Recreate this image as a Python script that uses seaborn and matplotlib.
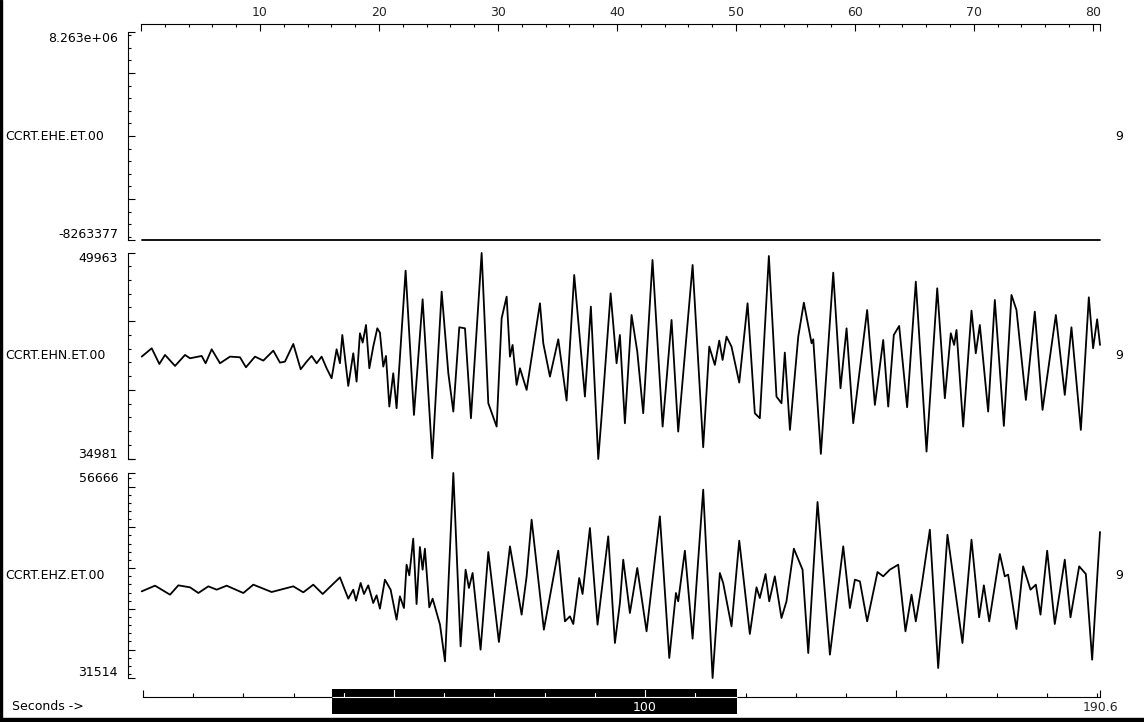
import numpy as np
import matplotlib
matplotlib.use('Agg')
import matplotlib.pyplot as plt
from matplotlib.ticker import FixedLocator, MultipleLocator, NullLocator
from matplotlib.patches import Rectangle
import seaborn as sns

# --- channels ---
channels = ['CCRT.EHE.ET.00', 'CCRT.EHN.ET.00', 'CCRT.EHZ.ET.00']
ch_top_labels = ['8.263e+06', '49963', '56666']
ch_bottom_labels = ['-8263377', '34981', '31514']
ch_max = [8263377, 49963, 56666]
ch_min = [-8263377, 34981, 31514]
ch_right = ['9', '9', '9']
major_step = [5e6, 5000, 5000]
minor_step = [1e6, 1000, 1000]

# --- time axes (seconds) ---
window_len = 80.6
window_start = 37.7
total_len = 190.6
top_ticks = [0, 10, 20, 30, 40, 50, 60, 70, 80, 80.6]
top_tick_labels = ['', '10', '20', '30', '40', '50', '60', '70', '80', '']
overview_ticks = [0, 50, 100, 150, 190.6]
overview_tick_labels = ['', '', '100', '', '190.6']

# --- traces (time in s, amplitude in counts) ---
e_times = [0.06, 80.6]
e_values = [-8263377, -8263377]

n_times = [0.06, 0.90, 1.54, 2.02, 2.86, 3.70, 4.12, 5.10, 5.43, 5.94, 6.64, 7.48,
           8.32, 8.82, 9.58, 10.28, 11.12, 11.68, 12.10, 12.80, 13.42, 13.92, 14.34,
           14.76, 15.18, 15.60, 16.02, 16.44, 16.72, 16.92, 17.42, 17.84, 18.12, 18.40,
           18.63, 18.91, 19.19, 19.52, 19.86, 20.08, 20.36, 20.59, 20.87, 21.20, 21.48,
           22.24, 22.94, 23.67, 24.48, 25.27, 25.83, 26.25, 26.75, 27.23, 27.73, 28.63,
           29.19, 29.89, 30.31, 30.73, 31.01, 31.23, 31.57, 31.85, 32.41, 33.53, 33.81,
           34.37, 35.07, 35.77, 36.41, 37.31, 37.81, 38.43, 38.71, 39.47, 39.97,
           40.25, 40.67, 41.23, 41.71, 42.21, 42.99, 43.84, 44.59, 45.15, 46.36, 47.25,
           47.76, 48.23, 48.60, 48.88, 49.21, 49.63, 50.28, 50.98, 51.59, 52.01, 52.77,
           53.41, 53.83, 54.11, 54.54, 55.24, 55.71, 56.36, 56.50, 57.14, 58.18, 58.79,
           59.30, 59.86, 61.03, 61.68, 62.38, 62.80, 63.27, 63.72, 64.39, 65.12, 66.02,
           66.92, 67.56, 68.06, 68.34, 68.54, 69.10, 69.80, 70.16, 70.50, 71.20, 71.76,
           72.52, 73.16, 73.58, 74.37, 75.12, 75.77, 76.89, 77.64, 78.20, 78.99, 79.66,
           80.02, 80.36, 80.60]
n_values = [42427, 43033, 41894, 42549, 41749, 42549, 42306, 42476, 41943, 42960, 41943, 42427,
            42379, 41652, 42427, 42137, 42864, 41991, 42064, 43348, 41507, 42064, 42476,
            41943, 42427, 41579, 40852, 42960, 41943, 44002, 40295, 42670, 40610, 44123,
            43445, 44729, 41579, 43154, 44487, 44172, 41700, 42476, 38793, 41216, 38672,
            48679, 38187, 46595, 35037, 47152, 41216, 38429, 44560, 44487, 37945, 49963,
            39035, 37339, 45214, 46789, 42427, 43275, 40368, 41579, 40004, 46304, 43397,
            40974, 43687, 39229, 48364, 39520, 46062, 34981, 38066, 47031, 41943,
            44002, 37581, 45456, 42791, 38308, 49454, 37339, 45093, 36976, 49091, 35837,
            43154, 41822, 43590, 42185, 43881, 43154, 40537, 46304, 38308, 37945, 49745,
            39520, 39035, 42718, 37097, 43881, 46353, 43397, 43687, 35352, 48533, 40126,
            44487, 37581, 45820, 38914, 43639, 38793, 44002, 44657, 38744, 47879, 35522,
            47395, 39399, 44123, 43275, 44366, 37339, 45771, 42670, 44729, 38429, 46546,
            37388, 46910, 45820, 39277, 45698, 38551, 45456, 39641, 44560, 37097, 46740,
            43033, 45141, 43275]

z_times = [0.06, 1.18, 2.44, 3.14, 4.12, 4.82, 5.66, 6.36, 7.20, 8.60, 9.44, 10.98,
           12.80, 13.64, 14.48, 15.27, 16.72, 17.42, 17.84, 18.07, 18.46, 18.74, 19.10,
           19.52, 19.80, 20.08, 20.50, 20.98, 21.48, 21.76, 22.10, 22.32, 22.55, 22.88,
           23.16, 23.44, 23.67, 23.86, 24.23, 24.51, 25.13, 25.55, 26.25, 26.86, 27.28,
           27.56, 27.87, 28.54, 29.19, 30.08, 31.01, 31.99, 32.41, 32.83, 33.86, 35.07,
           35.63, 36.05, 36.33, 36.83, 37.11, 37.73, 38.37, 39.27, 39.83,
           40.25, 40.53, 41.09, 41.71, 42.49, 43.61, 44.40, 44.96, 45.15, 45.71, 46.36,
           47.25, 48.04, 48.65, 48.93, 49.63, 50.28, 51.17, 51.73, 52.01, 52.49, 52.80,
           53.27, 53.83, 54.25, 54.87, 55.60, 56.08, 56.86, 57.90, 59.02, 59.58, 60.00,
           60.42, 61.03, 61.90, 62.38, 62.94, 63.64, 64.25, 64.76, 65.12, 65.60, 66.30,
           67.00, 67.78, 69.04, 69.80, 70.44, 70.84, 71.29, 72.18, 72.60, 72.88, 73.58,
           74.14, 74.76, 75.21, 75.60, 76.16, 76.80, 77.64, 78.12, 78.85, 79.41, 79.94,
           80.60]
z_values = [42147, 42842, 41738, 42883, 42638, 41942, 42760, 42351, 42842, 41942, 42965, 42065,
            42760, 42024, 42965, 41820, 43865, 41247, 42351, 41002, 43169, 41820, 42883,
            40715, 41656, 40020, 43578, 42351, 38670, 41533, 40102, 45419, 44110, 48609,
            40593, 47587, 44805, 47382, 40184, 41247, 38057, 33558, 56666, 35398, 44805,
            42556, 44396, 34989, 46973, 35930, 47668, 39284, 43987, 50940, 37443, 47137,
            38466, 39079, 38139, 43783, 41820, 49918, 38057, 48895, 35807,
            40715, 46032, 39488, 45010, 37239, 51349, 33967, 41942, 40920, 47137, 36339,
            54621, 31514, 44396, 43169, 37852, 48364, 36912, 42638, 41329, 44274, 40920,
            43987, 38875, 40920, 47382, 44805, 34580, 53108, 34376, 47668, 40102, 43578,
            43374, 38466, 44519, 43987, 44805, 45419, 37239, 41738, 38466, 42760, 49713,
            32740, 49100, 35807, 48486, 38957, 42883, 38466, 46728, 43987, 44192, 37525,
            45214, 42351, 42965, 39284, 47137, 38139, 46032, 38957, 45214, 44274, 33762,
            49427]

traces = [(e_times, e_values), (n_times, n_values), (z_times, z_values)]

W, H = 1144, 722
sns.set_theme(style='white')
plt.rcParams['font.family'] = ['DejaVu Sans']
plt.rcParams['font.size'] = 9
plt.rcParams['xtick.labelsize'] = 9
plt.rcParams['ytick.labelsize'] = 9
plt.rcParams['axes.axisbelow'] = False


def box(x0, y0, x1, y1):
    # pixel box (top-left origin) -> figure fraction rect
    return [x0 / W, 1 - y1 / H, (x1 - x0) / W, (y1 - y0) / H]


def fy(y):
    return 1 - y / H


fig = plt.figure(figsize=(W / 100, H / 100), dpi=100)
fig.patch.set_facecolor('white')

# window frame bits
fig.add_artist(Rectangle((0, 0), 2 / W, 1, transform=fig.transFigure, color='black'))
fig.add_artist(Rectangle((0, 0), 1, 4 / H, transform=fig.transFigure, color='black'))

panel_px = [(32, 240), (253, 459), (473, 678)]

for i, (y0, y1) in enumerate(panel_px):
    ax = fig.add_axes(box(141, y0, 1100, y1))
    t, v = traces[i]
    sns.lineplot(x=t, y=v, ax=ax, color='black', linewidth=1.3,
                 estimator=None, sort=False)
    for ln in ax.lines:
        ln.set_clip_on(False)
    ax.set_xlim(0, window_len)
    ax.set_ylim(ch_min[i], ch_max[i])
    ax.patch.set_alpha(0)
    ax.grid(False)
    for s in ['top', 'right', 'bottom']:
        ax.spines[s].set_visible(False)
    ax.spines['left'].set_position(('outward', 9.4))
    ax.spines['left'].set_color('black')
    ax.spines['left'].set_linewidth(0.8)
    ax.xaxis.set_major_locator(NullLocator())
    inner = np.arange(np.ceil(ch_min[i] / major_step[i]) * major_step[i], ch_max[i], major_step[i])
    ax.yaxis.set_major_locator(FixedLocator([ch_min[i]] + list(inner) + [ch_max[i]]))
    ax.yaxis.set_minor_locator(MultipleLocator(minor_step[i]))
    ax.tick_params(axis='y', which='major', direction='in', length=5.2, width=0.8,
                   color='black', left=True, labelleft=False)
    ax.tick_params(axis='y', which='minor', direction='in', length=2.4, width=0.8,
                   color='black', left=True)
    ax.set_xlabel('')
    ax.set_ylabel('')

    yc = (y0 + y1) / 2
    fig.text(5 / W, fy(yc), channels[i], ha='left', va='center', color='black')
    fig.text(1119 / W, fy(yc), ch_right[i], ha='center', va='center', color='black')
    fig.text(118 / W, fy(y0 + 6), ch_top_labels[i], ha='right', va='center', color='black')
    fig.text(118 / W, fy(y1 - 5), ch_bottom_labels[i], ha='right', va='center', color='black')

# top time axis
axt = fig.add_axes(box(141, 23.5, 1100, 30))
axt.set_xlim(0, window_len)
axt.set_ylim(0, 1)
axt.patch.set_alpha(0)
for s in ['left', 'right', 'bottom']:
    axt.spines[s].set_visible(False)
axt.spines['top'].set_color('black')
axt.spines['top'].set_linewidth(0.8)
axt.xaxis.tick_top()
axt.xaxis.set_major_locator(FixedLocator(top_ticks))
axt.set_xticklabels(top_tick_labels)
axt.xaxis.set_minor_locator(MultipleLocator(2))
axt.tick_params(axis='x', which='major', direction='in', length=5, width=0.8, pad=3,
                color='black', top=True, bottom=False, labeltop=True, labelbottom=False)
axt.tick_params(axis='x', which='minor', direction='in', length=2.5, width=0.8,
                color='black', top=True, bottom=False)
axt.set_yticks([])

# overview axis at the bottom
axb = fig.add_axes(box(143, 689, 1100, 697))
axb.set_axisbelow(False)
axb.set_xlim(0, total_len)
axb.set_ylim(0, 1)
axb.patch.set_alpha(0)
for s in ['left', 'right', 'top']:
    axb.spines[s].set_visible(False)
axb.spines['bottom'].set_color('black')
axb.spines['bottom'].set_linewidth(0.8)
window_end = window_start + window_len
axb.axvspan(window_start, window_end, ymin=-17 / 8, ymax=1, color='black',
            clip_on=False, zorder=1, lw=0)
axb.xaxis.set_major_locator(FixedLocator(overview_ticks))
axb.set_xticklabels(overview_tick_labels)
axb.xaxis.set_minor_locator(MultipleLocator(10))
axb.tick_params(axis='x', which='major', direction='in', length=5.2, width=0.8, pad=3,
                color='black', bottom=True)
axb.tick_params(axis='x', which='minor', direction='in', length=2.8, width=0.8,
                color='black', bottom=True)
axb.set_yticks([])
for tk in np.arange(0, total_len, 10):
    if window_start < tk < window_end:
        h = 7 / 8 if tk % 50 == 0 else 4 / 8
        axb.axvline(tk, ymin=0, ymax=h, color='white', lw=0.8, zorder=3)
axb.hlines(0, window_start, window_end, colors='white', lw=0.8, zorder=3, clip_on=False)
for tick in axb.xaxis.get_major_ticks():
    if window_start < tick.get_loc() < window_end:
        tick.label1.set_color('white')

fig.text(12 / W, fy(707), 'Seconds ->', ha='left', va='center', color='black')

fig.savefig('out.png', dpi=100)
